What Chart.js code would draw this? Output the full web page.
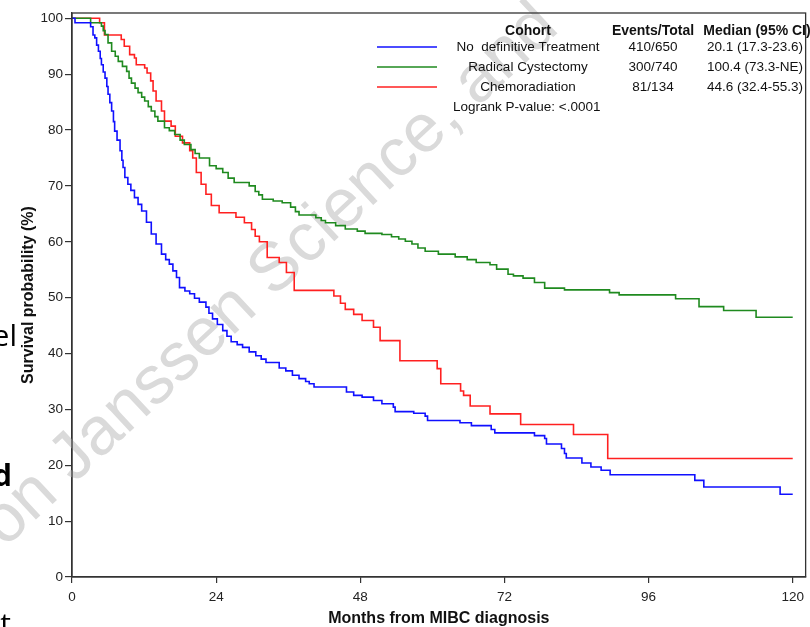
<!DOCTYPE html>
<html>
<head>
<meta charset="utf-8">
<script src="https://cdn.jsdelivr.net/npm/chart.js@4.4.1/dist/chart.umd.min.js"></script>
<style>
  html, body { margin: 0; padding: 0; background: #fff; }
  canvas { display: block; }
</style>
</head>
<body>
<canvas id="km" width="810" height="627"></canvas>
<script>
// Kaplan-Meier curves, values (month, survival %)
const noTxMonths = [0, 0.5, 3.1, 3.5, 3.8, 4.1, 4.4, 4.7, 4.9, 5.2, 5.5, 5.8, 6, 6.3, 6.6, 6.9, 7.1, 7.5, 8, 8.3, 8.5, 8.8, 9.3, 9.8, 10.4, 11, 11.6, 12.4, 13.2, 14, 14.9, 15.6, 16.2, 16.8, 17.4, 17.9, 18.8, 19.6, 20.4, 21.2, 22.3, 22.8, 23.4, 24.2, 25.1, 25.8, 26.5, 27.5, 28.4, 29.5, 30.6, 31.5, 32.3, 34.5, 35.6, 36.7, 37.8, 38.9, 39.5, 40.3, 45.7, 46.9, 48.3, 50.2, 51.6, 53.5, 53.8, 56.9, 58.8, 59.2, 64.6, 66.5, 69.8, 70.4, 77, 78.7, 79, 81.5, 82, 82.3, 84.9, 86.4, 88.1, 89.6, 103.7, 105.2, 117.9, 120];
const noTxSurv = [100, 99.2, 98.5, 97, 96.5, 95.2, 94.1, 92.8, 91.7, 90.4, 89.3, 87.8, 86.4, 84.9, 83.4, 81.5, 79.8, 78.2, 76.3, 74.6, 73.3, 71.5, 70.3, 69.2, 67.9, 66.7, 65.5, 63.5, 61.4, 59.6, 57.8, 56.8, 56, 54.8, 53.6, 51.8, 51.2, 50.7, 49.9, 49.2, 48.3, 47.2, 46.2, 45.2, 44.1, 43.1, 42.1, 41.6, 41.1, 40.3, 39.6, 39, 38.4, 37.4, 36.9, 36.1, 35.5, 35, 34.6, 34, 33.1, 32.5, 32.2, 31.6, 31, 30.4, 29.6, 29.3, 28.8, 28, 27.6, 27.1, 26.4, 25.8, 25.3, 24.8, 23.8, 23, 22.1, 21.3, 20.4, 19.7, 19.1, 18.3, 17.3, 16.1, 14.8, 14.8];

const cystMonths = [0, 3.1, 4.9, 5.2, 5.5, 6, 6.6, 7.2, 7.7, 8.4, 9.1, 9.5, 9.9, 10.5, 11, 11.6, 12.1, 12.7, 13.2, 13.8, 14.3, 15.4, 16.2, 17.1, 18, 18.7, 19.8, 20.5, 21.2, 22.9, 24, 25.1, 26, 27, 29.5, 30.5, 31.1, 31.7, 33.5, 35, 36.4, 37.2, 37.8, 40.6, 41.5, 42.2, 43.9, 45.5, 47.5, 48.8, 51.6, 53.2, 54.4, 55.5, 56.6, 57.6, 58.8, 61, 63.8, 65.8, 67.3, 69.6, 70.7, 72.6, 73.5, 75.1, 77, 78.7, 82, 89.5, 91.1, 100.5, 104.4, 108.5, 113.9, 120];
const cystSurv = [100, 99.2, 98.6, 97.8, 97.1, 95.6, 94.1, 93.2, 92.3, 91.4, 90.5, 89.3, 88.4, 87.5, 86.7, 85.9, 85.2, 84.2, 83.4, 82.4, 81.6, 80.4, 79.9, 79.2, 78.2, 77.4, 76.5, 75.8, 75, 73.6, 73.1, 72.4, 71.4, 70.6, 70, 69, 68.4, 67.6, 67.3, 67, 66.2, 65.4, 64.8, 64.3, 63.8, 63.4, 62.9, 62.3, 61.9, 61.5, 61.3, 60.9, 60.5, 60.1, 59.6, 58.9, 58.3, 57.8, 57.3, 56.8, 56.3, 55.9, 55.1, 54.2, 53.9, 53.5, 52.7, 51.7, 51.4, 50.9, 50.5, 49.8, 48.4, 47.7, 46.5, 46.5];

const chemoMonths = [0, 4.6, 5.4, 8.2, 8.7, 9.6, 10.4, 10.7, 12.1, 12.5, 13.1, 13.5, 14, 14.9, 15.4, 16.5, 17.2, 18.4, 19.6, 20.1, 20.7, 21.5, 22.3, 23.2, 24.5, 27.3, 28.7, 29.9, 30.5, 31.2, 32.5, 34.5, 35.7, 37, 43.6, 44.7, 45.5, 46.9, 48.3, 50.2, 51.3, 54.6, 60.8, 61.4, 64.7, 65.2, 66.3, 69.6, 74.7, 83.5, 89.2, 120];
const chemoSurv = [100, 99.2, 97, 96.2, 95, 93.5, 92.9, 91.7, 91.1, 90.2, 88.8, 87, 85.2, 83.4, 81.6, 80.7, 78.9, 77.7, 76.3, 75, 72.4, 70.3, 68.5, 66.5, 65.2, 64.4, 63.4, 62.2, 61, 60, 57.2, 56.3, 54.5, 51.3, 50.3, 49, 47.9, 47, 45.9, 44.7, 42.3, 38.7, 37.3, 34.6, 33.3, 32.5, 30.6, 29.2, 27.3, 25.5, 21.2, 21.2];

const xTickValues = [0, 24, 48, 72, 96, 120];
const yTickValues = [0, 10, 20, 30, 40, 50, 60, 70, 80, 90, 100];

// legend table
const cohortNames = ['No  definitive Treatment', 'Radical Cystectomy', 'Chemoradiation'];
const eventsTotal = ['410/650', '300/740', '81/134'];
const medianCI = ['20.1 (17.3-23.6)', '100.4 (73.3-NE)', '44.6 (32.4-55.3)'];
const logrankText = 'Logrank P-value: <.0001';

const colors = ['#1010ff', '#1f8a1f', '#ff2020'];

const toPoints = (xs, ys) => xs.map((x, i) => ({ x: x, y: ys[i] }));

const FONT = '"Liberation Sans", Arial, sans-serif';

// frame, legend table, watermark and the cut-off slide text on the left
const decorPlugin = {
  id: 'decor',
  beforeDatasetsDraw(chart) {
    const ctx = chart.ctx;
    ctx.save();
    ctx.font = '68px ' + FONT;
    ctx.fillStyle = '#dadada';
    const ang = -43 * Math.PI / 180;
    const text = 's on Janssen Science, and';
    const w0 = ctx.measureText('s on ').width;
    const jx = 74, jy = 484;
    const sx = jx - w0 * Math.cos(ang), sy = jy - w0 * Math.sin(ang);
    ctx.translate(sx, sy);
    ctx.rotate(ang);
    ctx.textBaseline = 'alphabetic';
    ctx.fillText(text, 0, 0);
    ctx.restore();
  },
  afterDraw(chart) {
    const ctx = chart.ctx;
    const a = chart.chartArea;
    ctx.save();
    // plot frame
    ctx.strokeStyle = '#333';
    ctx.lineWidth = 1.3;
    ctx.strokeRect(a.left, a.top, a.right - a.left, a.bottom - a.top);

    // legend
    ctx.fillStyle = '#111';
    ctx.textAlign = 'center';
    ctx.textBaseline = 'middle';
    ctx.font = 'bold 14px ' + FONT;
    ctx.fillText('Cohort', 528, 31);
    ctx.fillText('Events/Total', 653, 31);
    ctx.fillText('Median (95% CI)', 757, 31);
    ctx.font = '13.5px ' + FONT;
    const rowY = [47, 67, 87];
    for (let i = 0; i < 3; i++) {
      ctx.strokeStyle = colors[i];
      ctx.lineWidth = 1.5;
      ctx.beginPath();
      ctx.moveTo(377, rowY[i]);
      ctx.lineTo(437, rowY[i]);
      ctx.stroke();
      ctx.fillText(cohortNames[i], 528, rowY[i]);
      ctx.fillText(eventsTotal[i], 653, rowY[i]);
      ctx.fillText(medianCI[i], 755, rowY[i]);
    }
    ctx.textAlign = 'left';
    ctx.fillText(logrankText, 453, 107);

    // slide text cut off at the left edge
    ctx.fillStyle = '#000';
    ctx.textAlign = 'right';
    ctx.textBaseline = 'alphabetic';
    ctx.font = '30px "Open Sans", sans-serif';
    ctx.fillText('el', 17, 346);
    ctx.fillText('st', 11, 634);
    ctx.font = 'bold 30px "Open Sans", sans-serif';
    ctx.fillText('d', 12, 486);
    ctx.restore();
  }
};

const lineSet = (label, xs, ys, color) => ({
  label: label,
  data: toPoints(xs, ys),
  borderColor: color,
  borderWidth: 1.6,
  pointRadius: 0,
  stepped: true,
  fill: false
});

new Chart(document.getElementById('km').getContext('2d'), {
  type: 'line',
  data: {
    datasets: [
      lineSet(cohortNames[0], noTxMonths, noTxSurv, colors[0]),
      lineSet(cohortNames[1], cystMonths, cystSurv, colors[1]),
      lineSet(cohortNames[2], chemoMonths, chemoSurv, colors[2])
    ]
  },
  options: {
    responsive: false,
    animation: false,
    layout: { padding: { top: 13, right: 1, left: 0, bottom: 0 } },
    plugins: { legend: { display: false }, tooltip: { enabled: false } },
    scales: {
      x: {
        type: 'linear',
        min: 0,
        max: 122.15,
        afterBuildTicks: s => { s.ticks = xTickValues.map(v => ({ value: v })); },
        afterFit: s => { s.height = 50; },
        grid: { drawOnChartArea: false, drawTicks: true, tickLength: 6, color: '#333', lineWidth: 1.2 },
        border: { display: true, color: '#333', width: 1.3 },
        ticks: { color: '#222', padding: 6, maxRotation: 0, font: { family: FONT, size: 13.5 } },
        title: {
          display: true,
          text: 'Months from MIBC diagnosis',
          color: '#111',
          padding: { top: 0, bottom: 0 },
          font: { family: FONT, size: 16, weight: 'bold', lineHeight: 1 }
        }
      },
      y: {
        min: 0,
        max: 100.95,
        afterBuildTicks: s => { s.ticks = yTickValues.map(v => ({ value: v })); },
        afterFit: s => { s.width = 72; },
        grid: { drawOnChartArea: false, drawTicks: true, tickLength: 7, color: '#333', lineWidth: 1.2 },
        border: { display: true, color: '#333', width: 1.3 },
        ticks: { color: '#222', padding: 2, font: { family: FONT, size: 13.5 } },
        title: {
          display: true,
          text: 'Survival probability (%)',
          color: '#111',
          padding: { top: 21, bottom: 0 },
          font: { family: FONT, size: 16, weight: 'bold', lineHeight: 1 }
        }
      }
    }
  },
  plugins: [decorPlugin]
});
</script>
</body>
</html>
